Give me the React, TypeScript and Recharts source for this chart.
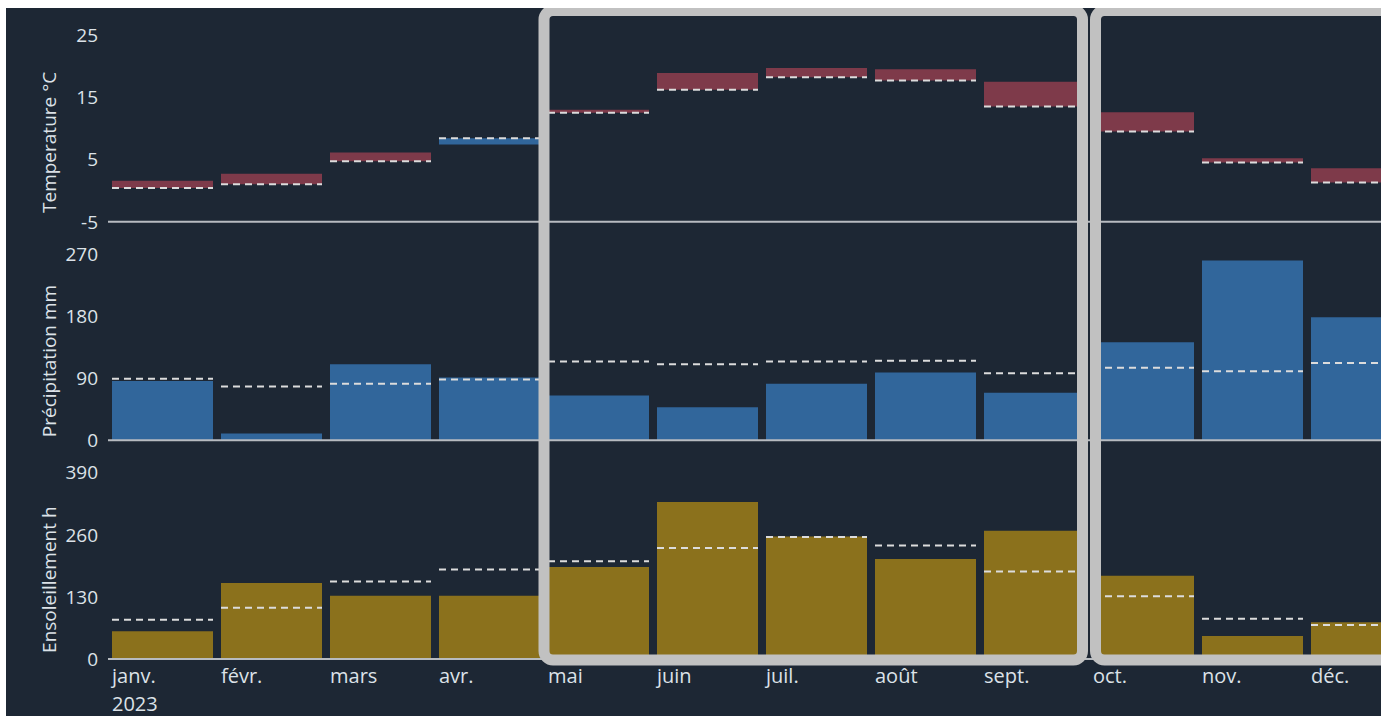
import { ComposedChart, Bar, XAxis, YAxis, ReferenceLine, ReferenceArea, Cell } from 'recharts'

const months = ['janv.', 'févr.', 'mars', 'avr.', 'mai', 'juin', 'juil.', 'août', 'sept.', 'oct.', 'nov.', 'déc.']
const yearLabel = '2023'

const tempActual = [1.6, 2.7, 6.1, 7.4, 13.0, 18.9, 19.7, 19.5, 17.5, 12.6, 5.2, 3.6]
const tempNormal = [0.4, 1.0, 4.7, 8.4, 12.5, 16.2, 18.2, 17.7, 13.5, 9.5, 4.5, 1.3]
const precipActual = [86, 10, 110, 91, 65, 48, 82, 98, 69, 142, 260, 178]
const precipNormal = [89, 78, 82, 88, 114, 110, 114, 115, 97, 105, 100, 112]
const sunActual = [58, 159, 132, 132, 192, 328, 256, 209, 268, 174, 48, 77]
const sunNormal = [82, 107, 162, 187, 204, 232, 255, 237, 183, 131, 84, 71]

const tempTicks = [-5, 5, 15, 25]
const precipTicks = [0, 90, 180, 270]
const sunTicks = [0, 130, 260, 390]

const highlights = [
  { from: 'mai', to: 'sept.', insetLeft: 0, insetRight: 6.5 },
  { from: 'oct.', to: 'déc.', insetLeft: 6.5, insetRight: 0 },
]

const BG = '#1d2734'
const TEXT = '#dce2e8'
const AXIS = '#b7bbc0'
const FRAME = '#c1c1c1'
const WARM = '#7e3a4a'
const COLD = '#31669b'
const SUN = '#8b711c'
const DASH = '#dcdcdc'
const FONT = "'Open Sans', 'Noto Sans', sans-serif"

const W = 1375
const H = 708
const GAP = 4 // px between bar and band edge
const PLOT_LEFT = 102

// each panel takes P of the plot height, panels separated by G
const P = 186.7 / 624
const G = (1 - 3 * P) / 2

// domain that puts [min, max] into panel i of the stacked plot
function panelDomain(min: number, max: number, i: number): [number, number] {
  const span = (max - min) / P
  const hi = max + span * i * (P + G)
  return [hi - span, hi]
}

const data = months.map((m, i) => ({
  month: m,
  tempRange: [Math.min(tempActual[i], tempNormal[i]), Math.max(tempActual[i], tempNormal[i])],
  tempNormal: tempNormal[i],
  warm: tempActual[i] >= tempNormal[i],
  precip: precipActual[i],
  precipNormal: precipNormal[i],
  sun: sunActual[i],
  sunNormal: sunNormal[i],
}))

function NormalMark(props: any) {
  const { x, y, width } = props
  if (x == null || y == null) return null
  return (
    <line x1={x} x2={x + width} y1={y} y2={y} stroke={DASH} strokeWidth={2} strokeDasharray="7 5" />
  )
}

function MonthTick(props: any) {
  const { x, y, payload, index } = props
  const left = x - (payload.offset ?? 54.5) + GAP
  return (
    <text x={left} y={y} fill={TEXT} fontSize={20} fontFamily={FONT} textAnchor="start">
      <tspan x={left} dy={24}>{payload.value}</tspan>
      {index === 0 && <tspan x={left} dy={28}>{yearLabel}</tspan>}
    </text>
  )
}

function panelLabel(text: string, i: number) {
  return (props: any) => {
    const vb = props.viewBox || {}
    const cx = PLOT_LEFT - 59
    const cy = vb.y + vb.height * (i * (P + G) + P / 2) + 14
    return (
      <text
        x={cx}
        y={cy}
        transform={`rotate(-90 ${cx} ${cy})`}
        textAnchor="middle"
        dominantBaseline="central"
        fill={TEXT}
        fontSize={19}
        fontFamily={FONT}
      >
        {text}
      </text>
    )
  }
}

function HighlightFrame(props: any) {
  const { x, y, width, height, insetLeft, insetRight } = props
  if (x == null) return null
  const left = x + insetLeft
  const right = x + width - insetRight
  return (
    <rect
      x={left}
      y={y - 24.5}
      width={right - left}
      height={height + 25.5}
      rx={9}
      ry={9}
      fill="none"
      stroke={FRAME}
      strokeWidth={11}
    />
  )
}

// the ticks of every panel end 10px left of the plot
function PanelTick(props: any) {
  const { y, payload } = props
  return (
    <text
      x={PLOT_LEFT - 10}
      y={y}
      textAnchor="end"
      dominantBaseline="central"
      fill={TEXT}
      fontSize={19}
      fontFamily={FONT}
    >
      {payload.value}
    </text>
  )
}

const yAxisCommon = {
  type: 'number' as const,
  width: 1,
  allowDataOverflow: true,
  interval: 0 as const,
  axisLine: false,
  tickLine: false,
  tickSize: 0,
  tick: <PanelTick />,
}

export default function App() {
  return (
    <>
      <style>{'body{margin:0;overflow:hidden;background:#fff}'}</style>
      <div
        style={{
          position: 'absolute',
          left: 6,
          top: 8,
          width: W,
          height: H,
          overflow: 'hidden',
          background: BG,
          fontFamily: FONT,
        }}
      >
        <ComposedChart
          width={W}
          height={H}
          data={data}
          margin={{ top: 27, right: -35, bottom: 0, left: PLOT_LEFT - 3 }}
          barCategoryGap={GAP}
        >
          <XAxis
            xAxisId="a"
            dataKey="month"
            height={57}
            axisLine={{ stroke: AXIS, strokeWidth: 2 }}
            tickLine={false}
            tickSize={0}
            tickMargin={0}
            interval={0}
            tick={<MonthTick />}
          />
          <XAxis xAxisId="sn" dataKey="month" hide />
          <XAxis xAxisId="t" dataKey="month" hide />
          <XAxis xAxisId="tn" dataKey="month" hide />
          <XAxis xAxisId="p" dataKey="month" hide />
          <XAxis xAxisId="pn" dataKey="month" hide />

          <YAxis
            yAxisId="temp"
            {...yAxisCommon}
            domain={panelDomain(-5, 25, 0)}
            ticks={tempTicks}
            label={panelLabel('Temperature °C', 0)}
          />
          <YAxis
            yAxisId="precip"
            {...yAxisCommon}
            domain={panelDomain(0, 270, 1)}
            ticks={precipTicks}
            label={panelLabel('Précipitation mm', 1)}
          />
          <YAxis
            yAxisId="sun"
            {...yAxisCommon}
            domain={panelDomain(0, 390, 2)}
            ticks={sunTicks}
            label={panelLabel('Ensoleillement h', 2)}
          />

          <ReferenceLine xAxisId="t" yAxisId="temp" y={-5} stroke={AXIS} strokeWidth={2} />
          <ReferenceLine xAxisId="p" yAxisId="precip" y={0} stroke={AXIS} strokeWidth={2} />

          <Bar xAxisId="t" yAxisId="temp" dataKey="tempRange" isAnimationActive={false}>
            {data.map((d) => (
              <Cell key={d.month} fill={d.warm ? WARM : COLD} />
            ))}
          </Bar>
          <Bar xAxisId="tn" yAxisId="temp" dataKey="tempNormal" shape={<NormalMark />} isAnimationActive={false} />

          <Bar xAxisId="p" yAxisId="precip" dataKey="precip" fill={COLD} isAnimationActive={false} />
          <Bar xAxisId="pn" yAxisId="precip" dataKey="precipNormal" shape={<NormalMark />} isAnimationActive={false} />

          <Bar xAxisId="a" yAxisId="sun" dataKey="sun" fill={SUN} isAnimationActive={false} />
          <Bar xAxisId="sn" yAxisId="sun" dataKey="sunNormal" shape={<NormalMark />} isAnimationActive={false} />

          {highlights.map((h) => (
            <ReferenceArea
              key={h.from}
              xAxisId="a"
              yAxisId="sun"
              x1={h.from}
              x2={h.to}
              ifOverflow="visible"
              zIndex={1500}
              shape={(p: any) => <HighlightFrame {...p} insetLeft={h.insetLeft} insetRight={h.insetRight} />}
            />
          ))}
        </ComposedChart>
      </div>
    </>
  )
}
